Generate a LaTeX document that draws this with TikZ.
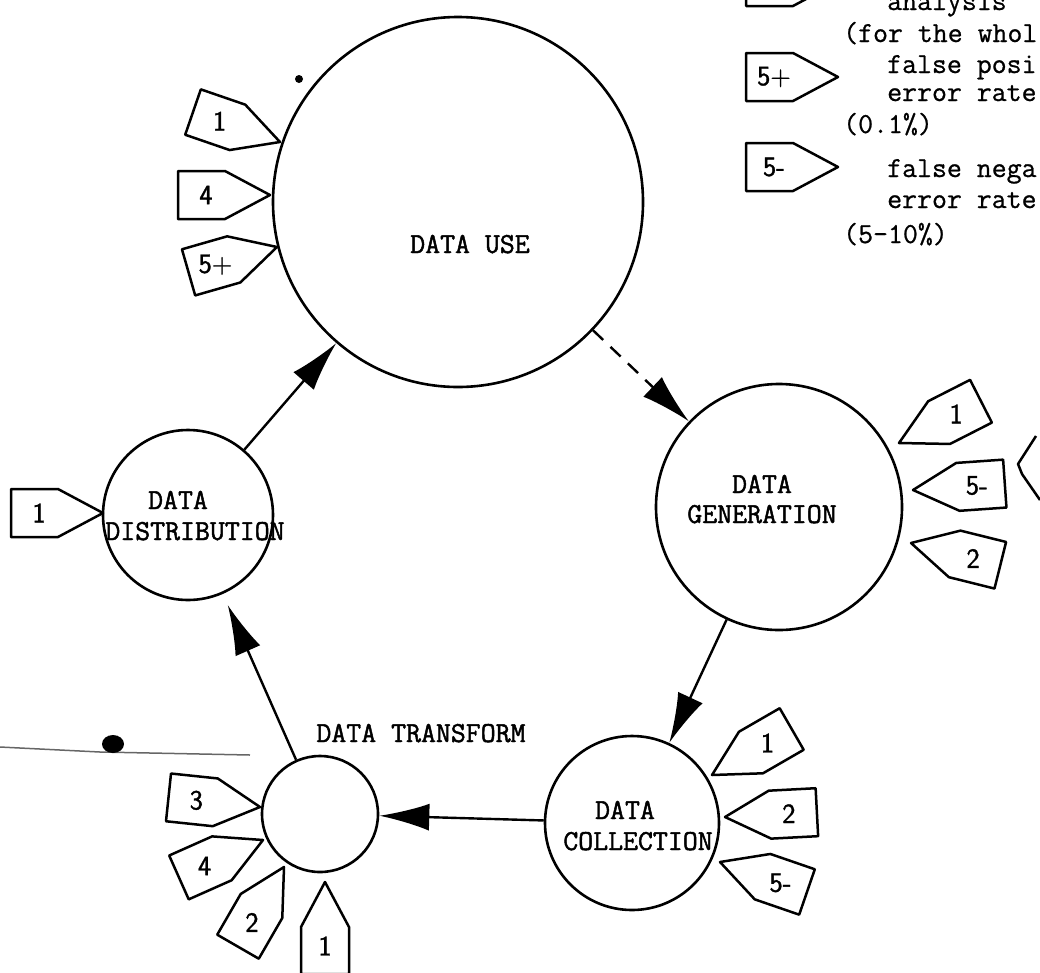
\documentclass[tikz,border=0pt]{standalone}
\usepackage{fontspec}
\newfontfamily\stagefont{Latin Modern Mono}[FakeBold=1.6]
\newfontfamily\legendfont{Latin Modern Mono}[FakeBold=0.8]
\newfontfamily\tagfont{Latin Modern Sans}[FakeBold=1.2]
\usetikzlibrary{arrows.meta}
\tikzset{
  stage/.style={circle, draw, line width=2.6pt, inner sep=0pt},
  flow/.style={line width=2.4pt, -{Latex[length=50pt,width=27pt]}},
  tagline/.style={line width=2.5pt, line join=round},
  taglabel/.style={font=\tagfont\fontsize{28}{28}\selectfont, inner sep=0pt},
  stagetext/.style={font=\stagefont\fontsize{29}{31}\selectfont, inner sep=0pt, anchor=base},
  legendtext/.style={font=\legendfont\fontsize{29}{31}\selectfont, inner sep=0pt, anchor=base west},
}
\newcommand\tagmark[5]{%
  \begin{scope}[shift={(#2,#3)},rotate=#4]
    \draw[tagline] (0,0) -- (45,24) -- (92,24) -- (92,-24) -- (45,-24) -- cycle;
    \node[taglabel] (#1) at (64,0) {#5};
  \end{scope}}
\begin{document}
\begin{tikzpicture}[x=1pt,y=-1pt]
\useasboundingbox (0,0) rectangle (1040,972);
\clip (0,0) rectangle (1040,972);

% stages
\node[stage, minimum size=370pt] (use) at (458,202) {};
\node[stage, minimum size=246pt] (gen) at (779,507) {};
\node[stage, minimum size=174pt] (coll) at (632,823) {};
\node[stage, minimum size=116pt] (trans) at (320,814) {};
\node[stage, minimum size=170pt] (dist) at (188,515) {};

% stage texts
\node[stagetext] (usetxt) at (470,253) {DATA USE};
\node[stagetext] (gentxt1) at (762,493) {DATA};
\node[stagetext] (gentxt2) at (762,523) {GENERATION};
\node[stagetext] (disttxt1) at (178,509) {DATA};
\node[stagetext] (disttxt2) at (195,540) {DISTRIBUTION};
\node[stagetext] (colltxt1) at (625,819) {DATA};
\node[stagetext] (colltxt2) at (638,850) {COLLECTION};
\node[stagetext] (transtxt) at (421,742) {DATA TRANSFORM};

% flows
\draw[flow] (dist) -- (use);
\draw[flow, dash pattern=on 14pt off 10pt] (use) -- (gen);
\draw[flow] (gen) -- (coll);
\draw[flow] (coll) -- (trans);
\draw[flow, shorten >=12pt] (trans) -- (dist);

% tags: data use
\tagmark{useA}{280}{142}{161}{1}
\tagmark{useB}{270}{195}{180}{4}
\tagmark{useC}{277}{247}{196}{5+}
% tags: data generation
\tagmark{genA}{899}{443}{27}{1}
\tagmark{genB}{913}{490}{4}{5-}
\tagmark{genC}{911}{543}{-14}{2}
% tags: data collection
\tagmark{collA}{712}{775}{30}{1}
\tagmark{collB}{725}{817}{3}{2}
\tagmark{collC}{720}{862}{-19}{5-}
% tags: data transform
\tagmark{transA}{260}{807}{174}{3}
\tagmark{transB}{263}{840}{204}{4}
\tagmark{transC}{284}{867}{240}{2}
\tagmark{transD}{325}{882}{270}{1}
% tag: data distribution
\tagmark{distA}{103}{513}{180}{1}

% legend
\tagmark{legA}{838}{-18}{180}{}
\tagmark{legB}{838}{77}{180}{5+}
\tagmark{legC}{838}{167}{180}{5-}
\node[legendtext] (lg1) at (887,10) {analysis};
\node[legendtext] (lg2) at (843,42) {(for the whol};
\node[legendtext] (lg3) at (887,73) {false posi};
\node[legendtext] (lg4) at (887,101) {error rate};
\node[legendtext] (lg5) at (843,133) {(0.1\%)};
\node[legendtext] (lg6) at (887,177) {false nega};
\node[legendtext] (lg7) at (887,208) {error rate};
\node[legendtext] (lg8) at (843,243) {(5-10\%)};

% partial shape at right edge
\draw[tagline] (1036,436) -- (1018,464) -- (1022,474) -- (1040,500);

% marks
\draw[line width=1.5pt, black!60] (0,747) -- (100,752) -- (250,755);
\fill (113,744) ellipse [x radius=11pt, y radius=9pt];
\fill (299,79) circle (4pt);
\end{tikzpicture}
\end{document}
